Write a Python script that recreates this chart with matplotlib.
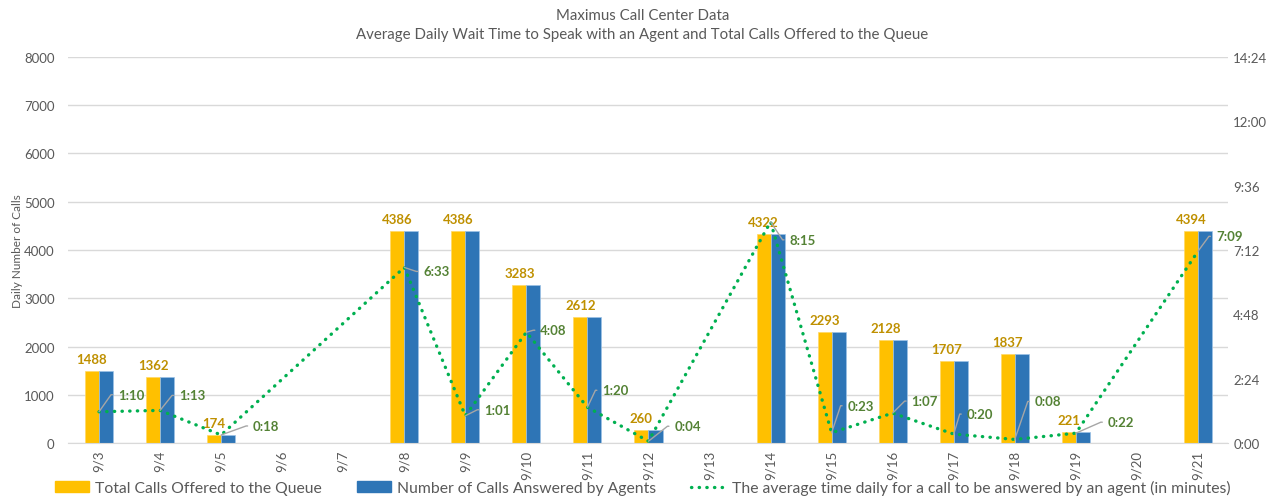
import math
import matplotlib
matplotlib.use("Agg")
import matplotlib.pyplot as plt
import numpy as np
from matplotlib.lines import Line2D
from matplotlib.patches import Patch

plt.rcParams['font.family'] = ['Lato', 'DejaVu Sans']

days = ['9/3', '9/4', '9/5', '9/6', '9/7', '9/8', '9/9', '9/10', '9/11', '9/12',
        '9/13', '9/14', '9/15', '9/16', '9/17', '9/18', '9/19', '9/20', '9/21']
offered = [1488, 1362, 174, None, None, 4386, 4386, 3283, 2612, 260,
           None, 4322, 2293, 2128, 1707, 1837, 221, None, 4394]
answered = [1488, 1362, 174, None, None, 4386, 4386, 3283, 2612, 260,
            None, 4322, 2293, 2128, 1707, 1837, 221, None, 4394]
# average wait, "m:ss"
wait = ['1:10', '1:13', '0:18', None, None, '6:33', '1:01', '4:08', '1:20', '0:04',
        None, '8:15', '0:23', '1:07', '0:20', '0:08', '0:22', None, '7:09']

# label offsets in pixels (dx to label left edge, dy)
lab_off = [(19, 17), (19, 15), (32, 9), None, None, (19, -4), (19, 6), (14, 2), (15, 17), (26, 15),
           None, (19, -18), (16, 27), (19, 12), (13, 20), (20, 38), (32, 11), None, (18, 15)]

gold = '#FFC000'
blue = '#2E75B6'
green = '#00B050'
txt = '#595959'
grid = '#D9D9D9'
dots = (0, (0.1, 2.2))

def secs(s):
    m, ss = s.split(':')
    return int(m) * 60 + int(ss)

x = np.arange(len(days))
w = 0.23
off_v = np.array([v if v is not None else np.nan for v in offered], float)
ans_v = np.array([v if v is not None else np.nan for v in answered], float)

fig = plt.figure(figsize=(12.85, 5.02), dpi=100)
ax = fig.add_axes([0.0533, 0.1155, 0.9027, 0.769])
ax.bar(x - w / 2, off_v, w, color=gold, edgecolor='#FFD966', linewidth=0.5, zorder=2)
ax.bar(x + w / 2, ans_v, w, color=blue, edgecolor='#9DC3E6', linewidth=0.5, zorder=2)
for i, v in enumerate(offered):
    if v is not None:
        ax.annotate(str(v), (x[i] - w / 2, v), xytext=(0, 6), textcoords='offset pixels',
                    ha='center', va='bottom', color='#BF9000', fontsize=9.5, fontweight='bold')

ax.set_xlim(-0.5, len(days) - 0.5)
ax.set_ylim(0, 8000)
ax.set_yticks(range(0, 8001, 1000))
ax.set_xticks(x)
ax.set_xticklabels(days, rotation=90)
ax.yaxis.grid(True, color=grid, linewidth=1)
ax.set_axisbelow(True)
for s in ['top', 'left', 'right']:
    ax.spines[s].set_visible(False)
ax.spines['bottom'].set_color(grid)
ax.tick_params(length=0, colors=txt, labelsize=9.5)
ax.tick_params(axis='x', pad=5)
ax.tick_params(axis='y', pad=10)
ax.set_ylabel('Daily Number of Calls', color=txt, fontsize=8.5)
ax.yaxis.set_label_coords(-0.0395, 0.5)

ax2 = ax.twinx()
wx = [x[i] for i, v in enumerate(wait) if v is not None]
wy = [secs(v) for v in wait if v is not None]
ax2.plot(wx, wy, color=green, linestyle=dots, linewidth=2.4, dash_capstyle='round', zorder=3)
ax2.set_ylim(0, 864)
ax2.set_yticks(range(0, 865, 144))
ax2.set_yticklabels([f'{t // 60}:{t % 60:02d}' for t in range(0, 865, 144)])
for s in ['top', 'left', 'right', 'bottom']:
    ax2.spines[s].set_visible(False)
ax2.tick_params(length=0, colors=txt, labelsize=9.5)
for i, v in enumerate(wait):
    if v is None:
        continue
    dx, dy = lab_off[i]
    ang = math.degrees(math.atan2(dy, dx - 7))
    ax2.annotate(v, (x[i], secs(v)), xytext=(dx, dy), textcoords='offset pixels',
                 ha='left', va='center', color='#548235', fontsize=9.5, fontweight='bold',
                 annotation_clip=False,
                 arrowprops=dict(arrowstyle='-', color='#A6A6A6', lw=1, shrinkA=2, shrinkB=0,
                                 relpos=(0, 0.5),
                                 connectionstyle=f'angle,angleA=0,angleB={ang},rad=0'))

fig.text(0.5, 0.968, 'Maximus Call Center Data', ha='center', va='center', color=txt, fontsize=10.8)
fig.text(0.5, 0.93, 'Average Daily Wait Time to Speak with an Agent and Total Calls Offered to the Queue',
         ha='center', va='center', color=txt, fontsize=10.8)

handles = [Patch(color=gold), Patch(color=blue),
           Line2D([], [], color=green, linestyle=dots, linewidth=2.4, dash_capstyle='round')]
labels = ['Total Calls Offered to the Queue', 'Number of Calls Answered by Agents',
          'The average time daily for a call to be answered by an agent (in minutes)']
fig.legend(handles, labels, loc='center', bbox_to_anchor=(0.5, 0.026), ncol=3,
           frameon=False, fontsize=11.3, labelcolor=txt, handlelength=2.2, handleheight=0.7,
           columnspacing=2.2, handletextpad=0.4, borderpad=0.1)

fig.savefig('out.png', dpi=100)
